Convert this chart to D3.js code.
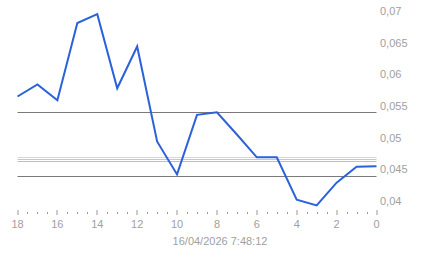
<!DOCTYPE html>
<html>
<head>
<meta charset="utf-8">
<script src="https://cdn.jsdelivr.net/npm/d3@7"></script>
<style>
  body { margin: 0; background: #fff; }
  text { font-family: "Liberation Sans", Arial, sans-serif; font-size: 11px; fill: #a0a0a0; }
</style>
</head>
<body>
<svg id="chart" width="443" height="258"></svg>
<script>
// chart data
var ages = [18, 17, 16, 15, 14, 13, 12, 11, 10, 9, 8, 7, 6, 5, 4, 3, 2, 1, 0];
var values = [0.0565, 0.0584, 0.0559, 0.0681, 0.0695, 0.0578, 0.0644, 0.0494, 0.0442,
  0.0536, 0.0540, 0.0505, 0.0469, 0.0469, 0.0402, 0.0393, 0.0429, 0.0454, 0.0455];
var greyLevels = [0.054, 0.044];
var colourLevels = [0.04695, 0.04663, 0.04624];
var colourLevelColors = ['#ecdc7c', '#b2dc96', '#a6d68a'];
var yTicks = [0.04, 0.045, 0.05, 0.055, 0.06, 0.065, 0.07];
var yTickLabels = ['0,04', '0,045', '0,05', '0,055', '0,06', '0,065', '0,07'];
var xTicks = [18, 16, 14, 12, 10, 8, 6, 4, 2, 0];
var timestamp = '16/04/2026 7:48:12';

var svg = d3.select('#chart');

var x = d3.scaleLinear().domain([18, 0]).range([17.5, 376.5]);
var y = d3.scaleLinear().domain([0.04, 0.07]).range([201, 11]);

// reference lines
svg.selectAll('.grey').data(greyLevels).enter()
  .append('line')
  .attr('x1', x(18)).attr('x2', x(0))
  .attr('y1', function(d){ return Math.round(y(d)) + 0.5; })
  .attr('y2', function(d){ return Math.round(y(d)) + 0.5; })
  .attr('stroke', '#7a7a7a').attr('stroke-width', 1);

svg.selectAll('.lvl').data(colourLevels).enter()
  .append('line')
  .attr('x1', x(18)).attr('x2', x(0))
  .attr('y1', function(d){ return Math.round(y(d)) + 0.5; })
  .attr('y2', function(d){ return Math.round(y(d)) + 0.5; })
  .attr('stroke', function(d, i){ return colourLevelColors[i]; })
  .attr('stroke-width', 1);

// series line
var line = d3.line()
  .x(function(d, i){ return x(ages[i]); })
  .y(function(d){ return y(d); });

svg.append('path')
  .datum(values)
  .attr('d', line)
  .attr('fill', 'none')
  .attr('stroke', '#2b62d9')
  .attr('stroke-width', 2)
  .attr('stroke-linejoin', 'miter');

// y labels on the right
svg.selectAll('.ylab').data(yTicks).enter()
  .append('text')
  .attr('x', 380)
  .attr('y', function(d){ return y(d); })
  .attr('dy', '0.35em')
  .text(function(d, i){ return yTickLabels[i]; });

// x axis: minor dots every half unit, major ticks every two
var minor = d3.range(0, 36).map(function(i){ return i / 2; }).filter(function(v){ return v % 2 !== 0; });
svg.selectAll('.minor').data(minor).enter()
  .append('rect')
  .attr('x', function(d){ return Math.round(x(d)); })
  .attr('y', 212)
  .attr('width', 1).attr('height', 2)
  .attr('fill', '#9a9a9a');

svg.selectAll('.major').data(xTicks).enter()
  .append('rect')
  .attr('x', function(d){ return Math.round(x(d)) - 0.5; })
  .attr('y', 210)
  .attr('width', 1).attr('height', 5)
  .attr('fill', '#9a9a9a');

svg.selectAll('.xlab').data(xTicks).enter()
  .append('text')
  .attr('x', function(d){ return x(d); })
  .attr('y', 224)
  .attr('dy', '0.35em')
  .attr('text-anchor', 'middle')
  .text(function(d){ return d; });

svg.append('text')
  .attr('x', 220)
  .attr('y', 241)
  .attr('dy', '0.35em')
  .attr('text-anchor', 'middle')
  .text(timestamp);
</script>
</body>
</html>
